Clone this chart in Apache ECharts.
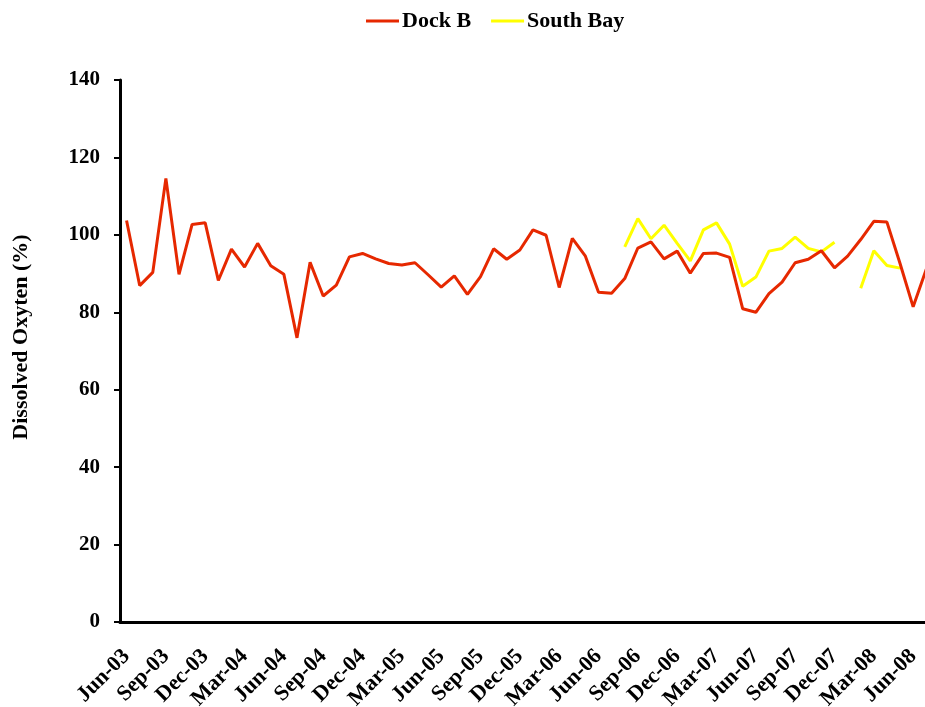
<!DOCTYPE html>
<html>
<head>
<meta charset="utf-8">
<script src="https://cdn.jsdelivr.net/npm/echarts@6/dist/echarts.min.js"></script>
<style>
  html, body { margin: 0; padding: 0; background: #fff; overflow: hidden; }
  /* the plot runs past the right edge of the window, as in the original */
  #chart { width: 1000px; height: 707px; }
</style>
</head>
<body>
<div id="chart"></div>
<script>
const months = [
  "Jun-03", "Jul-03", "Aug-03", "Sep-03", "Oct-03", "Nov-03", "Dec-03", "Jan-04", "Feb-04", "Mar-04",
  "Apr-04", "May-04", "Jun-04", "Jul-04", "Aug-04", "Sep-04", "Oct-04", "Nov-04", "Dec-04", "Jan-05",
  "Feb-05", "Mar-05", "Apr-05", "May-05", "Jun-05", "Jul-05", "Aug-05", "Sep-05", "Oct-05", "Nov-05",
  "Dec-05", "Jan-06", "Feb-06", "Mar-06", "Apr-06", "May-06", "Jun-06", "Jul-06", "Aug-06", "Sep-06",
  "Oct-06", "Nov-06", "Dec-06", "Jan-07", "Feb-07", "Mar-07", "Apr-07", "May-07", "Jun-07", "Jul-07",
  "Aug-07", "Sep-07", "Oct-07", "Nov-07", "Dec-07", "Jan-08", "Feb-08", "Mar-08", "Apr-08", "May-08",
  "Jun-08", "Jul-08"
];

const dockB = [
  103.7, 86.9, 90.3, 114.6, 89.8, 102.7, 103.1, 88.2, 96.3, 91.7,
  97.8, 92.0, 89.8, 73.4, 92.9, 84.2, 87.0, 94.3, 95.2, 93.8,
  92.6, 92.2, 92.8, 89.7, 86.5, 89.4, 84.6, 89.2, 96.4, 93.7,
  96.1, 101.3, 99.9, 86.4, 99.1, 94.5, 85.2, 84.9, 88.7, 96.6,
  98.2, 93.8, 95.8, 90.1, 95.2, 95.3, 94.2, 80.9, 80.0, 84.8,
  87.8, 92.8, 93.7, 95.9, 91.5, 94.5, 98.8, 103.5, 103.3, 92.6,
  81.4, 91.1
];

const southBay = [
  null, null, null, null, null, null, null, null, null, null,
  null, null, null, null, null, null, null, null, null, null,
  null, null, null, null, null, null, null, null, null, null,
  null, null, null, null, null, null, null, null, 96.9, 104.2,
  99.0, 102.5, 97.8, 93.3, 101.3, 103.1, 97.6, 86.7, 89.1, 95.8,
  96.5, 99.4, 96.5, 95.6, 98.1, null, 86.2, 95.9, 92.1, 91.4,
  null, null
];

const yTicks = [0, 20, 40, 60, 80, 100, 120, 140];

const chart = echarts.init(document.getElementById("chart"));
const font = "'Liberation Serif', 'Times New Roman', serif";

chart.setOption({
  backgroundColor: "#fff",
  animation: false,
  legend: {
    top: 5,
    left: 361,
    itemWidth: 33,
    itemHeight: 3,
    itemGap: 20,
    icon: "rect",
    textStyle: { fontFamily: font, fontWeight: "bold", fontSize: 22, color: "#000", padding: [0, 0, 0, -2] },
    data: ["Dock B", "South Bay"],
  },
  grid: {
    left: 120,
    top: 80,
    height: 542,
    width: months.length * 13.11,
    outerBoundsMode: "none",
  },
  xAxis: {
    type: "category",
    data: months,
    boundaryGap: true,
    axisLine: { lineStyle: { color: "#000", width: 3 } },
    axisTick: { interval: 2, length: 6, lineStyle: { color: "#000", width: 2 } },
    axisLabel: {
      interval: 2,
      rotate: 45,
      margin: 31,
      color: "#000",
      fontFamily: font,
      fontWeight: "bold",
      fontSize: 22,
    },
    splitLine: { show: false },
  },
  yAxis: {
    type: "value",
    min: yTicks[0],
    max: yTicks[yTicks.length - 1],
    interval: 20,
    name: "Dissolved Oxyten (%)",
    nameLocation: "middle",
    nameGap: 88,
    nameTextStyle: {
      fontFamily: font,
      fontWeight: "bold",
      fontSize: 22,
      color: "#000",
      padding: [0, 0, 0, 28],
    },
    axisLine: { show: true, lineStyle: { color: "#000", width: 3 } },
    axisTick: { show: true, length: 6, lineStyle: { color: "#000", width: 2 } },
    axisLabel: { margin: 20, color: "#000", fontFamily: font, fontWeight: "bold", fontSize: 21 },
    splitLine: { show: false },
  },
  series: [
    {
      name: "Dock B",
      type: "line",
      data: dockB,
      symbol: "none",
      connectNulls: false,
      itemStyle: { color: "#e62800" },
      lineStyle: { color: "#e62800", width: 3 },
      z: 3,
    },
    {
      name: "South Bay",
      type: "line",
      data: southBay,
      symbol: "none",
      connectNulls: false,
      itemStyle: { color: "#ffff00" },
      lineStyle: { color: "#ffff00", width: 3 },
      z: 2,
    },
  ],
});
</script>
</body>
</html>
